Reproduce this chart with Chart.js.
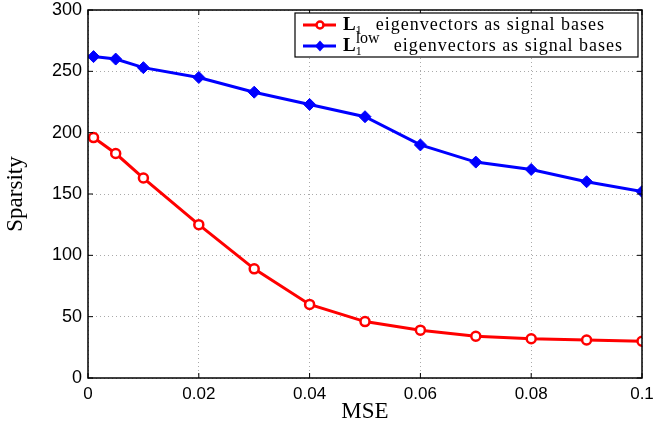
<!DOCTYPE html>
<html>
<head>
<meta charset="utf-8">
<script src="https://cdn.jsdelivr.net/npm/chart.js@4"></script>
<style>
  html, body { margin: 0; padding: 0; background: #fff; }
  #wrap { width: 655px; height: 428px; }
</style>
</head>
<body>
<div id="wrap"><canvas id="myChart" width="655" height="428"></canvas></div>
<script>
const mse = [0.001, 0.005, 0.01, 0.02, 0.03, 0.04, 0.05, 0.06, 0.07, 0.08, 0.09, 0.1]
const sparsityL1 = [196, 183, 163, 125, 89, 60, 46, 39, 34, 32, 31, 30]
const sparsityLow = [262, 260, 253, 245, 233, 223, 213, 190, 176, 170, 160, 152]
const seriesNames = ['eigenvectors as signal bases', 'eigenvectors as signal bases']

const tickFont = { family: 'Liberation Sans', size: 17 }
const serif = 'Liberation Serif'

function toPoints (ys) {
  return ys.map((y, i) => ({ x: mse[i], y: y }))
}

// box, inward ticks, and the legend with sub/superscripts
const framePlugin = {
  id: 'frame',
  afterDraw (chart) {
    const c = chart.ctx
    const a = chart.chartArea
    const xs = chart.scales.x
    const ys = chart.scales.y
    c.save()
    c.strokeStyle = '#000'
    c.lineWidth = 1.5
    c.strokeRect(a.left, a.top, a.right - a.left, a.bottom - a.top)
    c.lineWidth = 1
    c.beginPath()
    xs.ticks.forEach(t => {
      const px = xs.getPixelForValue(t.value)
      c.moveTo(px, a.bottom); c.lineTo(px, a.bottom - 5)
      c.moveTo(px, a.top); c.lineTo(px, a.top + 5)
    })
    ys.ticks.forEach(t => {
      const py = ys.getPixelForValue(t.value)
      c.moveTo(a.left, py); c.lineTo(a.left + 5, py)
      c.moveTo(a.right, py); c.lineTo(a.right - 5, py)
    })
    c.stroke()

    // legend
    const bx = a.right - 347, by = a.top + 3, bw = 343, bh = 44
    c.fillStyle = '#fff'
    c.fillRect(bx, by, bw, bh)
    c.strokeStyle = '#000'
    c.lineWidth = 1.2
    c.strokeRect(bx, by, bw, bh)
    const rows = [
      { color: 'red', y: by + 12, sup: false },
      { color: 'blue', y: by + 33, sup: true }
    ]
    rows.forEach((r, i) => {
      c.strokeStyle = r.color
      c.lineWidth = 3
      c.beginPath()
      c.moveTo(bx + 8, r.y); c.lineTo(bx + 41, r.y)
      c.stroke()
      if (i === 0) {
        c.beginPath()
        c.arc(bx + 25, r.y, 3.5, 0, Math.PI * 2)
        c.fillStyle = '#fff'
        c.fill()
        c.lineWidth = 2.5
        c.stroke()
      } else {
        c.beginPath()
        c.moveTo(bx + 25, r.y - 5.5); c.lineTo(bx + 30, r.y)
        c.lineTo(bx + 25, r.y + 5.5); c.lineTo(bx + 20, r.y)
        c.closePath()
        c.fillStyle = r.color
        c.fill()
      }
      c.fillStyle = '#000'
      c.textBaseline = 'alphabetic'
      c.textAlign = 'left'
      let tx = bx + 48
      const base = r.y + 5
      c.font = 'bold 19px ' + serif
      c.fillText('L', tx, base)
      tx += c.measureText('L').width
      c.font = '12px ' + serif
      c.fillText('1', tx, base + 4)
      let w = c.measureText('1').width
      if (r.sup) {
        c.font = '16px ' + serif
        c.fillText('low', tx, base - 8)
        w = Math.max(w, c.measureText('low').width)
      }
      tx += w + 14
      c.font = '18px ' + serif
      c.letterSpacing = '1px'
      c.fillText(seriesNames[i], tx, base)
      c.letterSpacing = '0px'
    })
    c.restore()
  }
}

const ctx = document.getElementById('myChart')
const config = {
  type: 'scatter',
  data: {
    datasets: [{
      label: 'L1 ' + seriesNames[0],
      data: toPoints(sparsityL1),
      showLine: true,
      borderColor: 'red',
      backgroundColor: 'red',
      borderWidth: 3,
      pointStyle: 'circle',
      pointRadius: 4.5,
      pointBorderWidth: 2.5,
      pointBackgroundColor: '#fff',
      pointBorderColor: 'red'
    }, {
      label: 'L1low ' + seriesNames[1],
      data: toPoints(sparsityLow),
      showLine: true,
      borderColor: 'blue',
      backgroundColor: 'blue',
      borderWidth: 3,
      pointStyle: 'rectRot',
      pointRadius: 6,
      pointBorderWidth: 1,
      pointBackgroundColor: 'blue',
      pointBorderColor: 'blue'
    }]
  },
  options: {
    responsive: false,
    animation: false,
    layout: { padding: { top: 10, right: 13, left: 0, bottom: 0 } },
    plugins: {
      legend: { display: false },
      tooltip: { enabled: false }
    },
    scales: {
      x: {
        type: 'linear',
        min: 0,
        max: 0.1,
        afterFit: s => { s.height = 50; s.paddingLeft = 0; s.paddingRight = 0 },
        ticks: {
          stepSize: 0.02,
          padding: 6,
          color: '#000',
          font: tickFont,
          maxRotation: 0,
          callback: v => String(+v.toFixed(2))
        },
        grid: { color: '#aaa', drawTicks: false },
        border: { display: false, dash: [1, 3] },
        title: { display: true, text: 'MSE', color: '#000', font: { family: serif, size: 23 }, padding: { top: 0, bottom: 2 } }
      },
      y: {
        min: 0,
        max: 300,
        afterFit: s => { s.width = 88; s.paddingTop = 0; s.paddingBottom = 0 },
        ticks: { stepSize: 50, padding: 6, color: '#000', font: { family: 'Liberation Sans', size: 18 } },
        grid: { color: '#aaa', drawTicks: false },
        border: { display: false, dash: [1, 3] },
        title: { display: true, text: 'Sparsity', color: '#000', font: { family: serif, size: 23 }, padding: { top: 2, bottom: 0 } }
      }
    }
  },
  plugins: [framePlugin]
}

const chart = new Chart(ctx, config)
</script>
</body>
</html>
